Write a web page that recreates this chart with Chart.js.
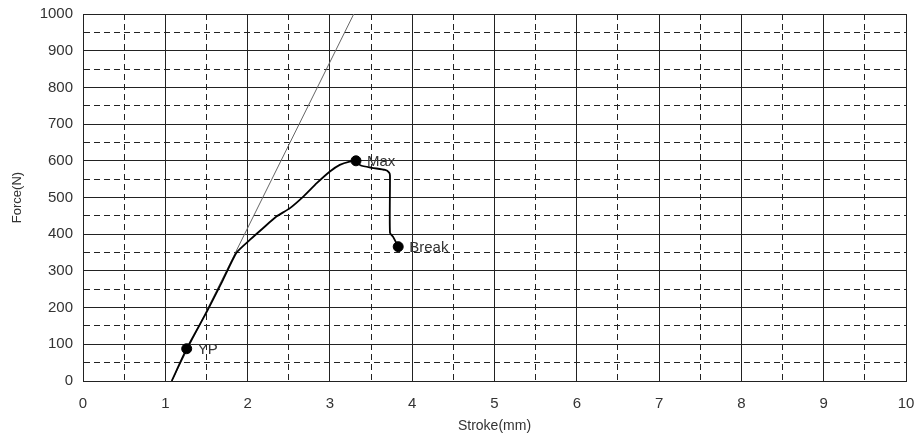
<!DOCTYPE html>
<html>
<head>
<meta charset="utf-8">
<script src="https://cdn.jsdelivr.net/npm/chart.js@4.4.1/dist/chart.umd.min.js"></script>
<style>
  html, body { margin: 0; padding: 0; background: #fff; }
  #wrap { width: 919px; height: 436px; position: relative; }
</style>
</head>
<body>
<div id="wrap"><canvas id="c"></canvas></div>
<script>
// Stroke (mm) and force (N) of the measured curve
const strokeMm = [1.078, 1.26, 1.5, 1.7, 1.867, 2.03, 2.19, 2.35, 2.515, 2.68, 2.84, 3.0, 3.12, 3.24, 3.317, 3.37, 3.51, 3.67, 3.72, 3.73, 3.73, 3.77, 3.83];
const forceN   = [0, 88, 187, 275, 350, 385, 417, 448, 471, 503, 539, 571, 589, 598, 600, 588, 581, 575, 568, 560, 404, 392, 366];
// Elastic tangent line
const tangentX = [1.078, 3.29];
const tangentY = [0, 1000];
// Marked points
const markNames = ['YP', 'Max', 'Break'];
const markX = [1.26, 3.317, 3.83];
const markY = [88, 600, 366];
// Axes
const xTicks = [0,1,2,3,4,5,6,7,8,9,10];
const yTicks = [0,100,200,300,400,500,600,700,800,900,1000];

const curve = strokeMm.map((x, i) => ({x, y: forceN[i]}));
const tangent = tangentX.map((x, i) => ({x, y: tangentY[i]}));
const marks = markX.map((x, i) => ({x, y: markY[i]}));

const FONT = 'Liberation Sans, Arial, sans-serif';

const markLabels = {
  id: 'markLabels',
  afterDatasetsDraw(chart) {
    const meta = chart.getDatasetMeta(2);
    const ctx = chart.ctx;
    ctx.save();
    ctx.font = '15px ' + FONT;
    ctx.fillStyle = '#333';
    ctx.textBaseline = 'middle';
    ctx.textAlign = 'left';
    meta.data.forEach((pt, i) => {
      ctx.fillText(markNames[i], pt.x + 11, pt.y + 1);
    });
    ctx.restore();
  }
};

new Chart(document.getElementById('c'), {
  type: 'scatter',
  data: {
    datasets: [
      { data: curve, showLine: true, borderColor: '#000', borderWidth: 1.8, pointRadius: 0, tension: 0.2, order: 2 },
      { data: tangent, showLine: true, borderColor: '#666', borderWidth: 1, pointRadius: 0, tension: 0, order: 3 },
      { data: marks, showLine: false, backgroundColor: '#000', borderColor: '#000', pointRadius: 5, order: 1 }
    ]
  },
  options: {
    responsive: true,
    maintainAspectRatio: false,
    animation: false,
    layout: { padding: { top: 14, right: 13, left: 0, bottom: 0 } },
    plugins: { legend: { display: false }, tooltip: { enabled: false } },
    scales: {
      x: {
        type: 'linear', min: 0, max: 10,
        afterBuildTicks(s) { s.ticks = []; for (let v = 0; v <= 20; v++) s.ticks.push({value: v / 2}); },
        ticks: {
          autoSkip: false, maxRotation: 0, padding: 14,
          color: '#333', font: { family: FONT, size: 15 },
          callback(v) { return xTicks.includes(v) ? String(v) : ''; }
        },
        grid: { drawTicks: false, color: '#222', lineWidth: 1 },
        border: {
          color: '#222', width: 1,
          dash(ctx) { return (ctx.tick && ctx.tick.value % 1 !== 0) ? [6, 4] : []; }
        },
        title: { display: true, text: 'Stroke(mm)', color: '#333', font: { family: FONT, size: 14 }, padding: { top: 2, bottom: 1 } },
        afterFit(s) { s.height = 55; s.paddingLeft = 0; s.paddingRight = 0; }
      },
      y: {
        type: 'linear', min: 0, max: 1000,
        afterBuildTicks(s) { s.ticks = []; for (let v = 0; v <= 20; v++) s.ticks.push({value: v * 50}); },
        ticks: {
          autoSkip: false, padding: 10,
          color: '#333', font: { family: FONT, size: 15 },
          callback(v) { return yTicks.includes(v) ? String(v) : ''; }
        },
        grid: { drawTicks: false, color: '#222', lineWidth: 1 },
        border: {
          color: '#222', width: 1,
          dash(ctx) { return (ctx.tick && ctx.tick.value % 100 !== 0) ? [6, 4] : []; }
        },
        title: { display: true, text: 'Force(N)', color: '#333', font: { family: FONT, size: 13 }, padding: { top: 10, bottom: 0 } },
        afterFit(s) { s.width = 83; s.paddingTop = 0; s.paddingBottom = 0; }
      }
    }
  },
  plugins: [markLabels]
});
</script>
</body>
</html>
